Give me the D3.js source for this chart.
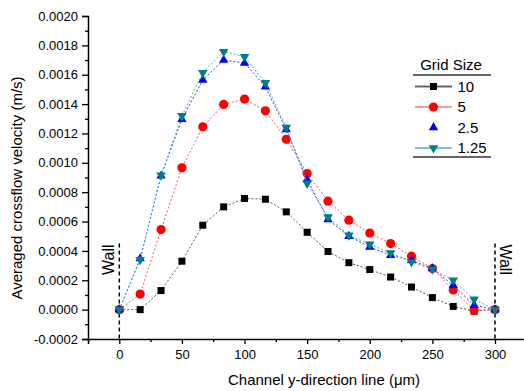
<!DOCTYPE html>
<html>
<head>
<meta charset="utf-8">
<script src="https://cdn.jsdelivr.net/npm/d3@7"></script>
<style>
  html, body { margin: 0; padding: 0; background: #fff; }
  svg { display: block; font-family: "Liberation Sans", Arial, sans-serif; }
</style>
</head>
<body>
<svg id="chart" width="524" height="391"></svg>
<script>
// Positions across the channel (µm)
const positions = [0, 16.67, 33.33, 50, 66.67, 83.33, 100, 116.67, 133.33, 150,
                   166.67, 183.33, 200, 216.67, 233.33, 250, 266.67, 283.33, 300];

// Averaged crossflow velocity (m/s) for each grid size
const grid10  = [0, 0, 0.00013, 0.00033, 0.000575, 0.0007, 0.000757, 0.000752, 0.000666, 0.000527,
                 0.000396, 0.00032, 0.000273, 0.000222, 0.000154, 0.000082, 0.000022, -0.00001, 0];
const grid5   = [0, 0.000106, 0.000545, 0.000966, 0.001245, 0.001398, 0.001434, 0.001354, 0.00116, 0.000927,
                 0.000739, 0.000609, 0.000522, 0.00045, 0.000364, 0.00028, 0.000134, -0.000005, 0];
const grid2_5 = [0, 0.000348, 0.000911, 0.001296, 0.001564, 0.0017, 0.00168, 0.001518, 0.001227, 0.000886,
                 0.000614, 0.0005, 0.000427, 0.00037, 0.000336, 0.00028, 0.000166, 0.00003, 0];
const grid1_25 = [0, 0.00034, 0.000915, 0.00132, 0.001614, 0.001757, 0.001723, 0.001545, 0.00124, 0.00086,
                  0.000631, 0.000507, 0.000445, 0.000386, 0.000325, 0.000275, 0.0002, 0.00007, 0];

const seriesNames = ["10", "5", "2.5", "1.25"];

// Axis ticks
const xTicks = [0, 50, 100, 150, 200, 250, 300];
const xMinorTicks = [-25, 25, 75, 125, 175, 225, 275, 325];
const yTicks = [-0.0002, 0, 0.0002, 0.0004, 0.0006, 0.0008, 0.001, 0.0012, 0.0014, 0.0016, 0.0018, 0.002];
const yMinorTicks = [-0.0001, 0.0001, 0.0003, 0.0005, 0.0007, 0.0009, 0.0011, 0.0013, 0.0015, 0.0017, 0.0019];

// Wall positions
const walls = [0, 300];

const styles = [
  { values: grid10,   color: "#000000", line: "#555555", legendLine: "#666666", shape: "square" },
  { values: grid5,    color: "#ff0000", line: "#ff5555", legendLine: "#ff9999", shape: "circle" },
  { values: grid2_5,  color: "#0000ff", line: "#3344ff", legendLine: null,      shape: "up" },
  { values: grid1_25, color: "#008080", line: "#55b0b0", legendLine: "#80c4c4", shape: "down" }
];

const svg = d3.select("#chart");

const x = d3.scaleLinear().domain([-25, 325]).range([88, 526.3]);
const y = d3.scaleLinear().domain([-0.0002, 0.002]).range([339, 16]);

// Plain hyphen for negative tick values
const yFmt = d => (d < 0 ? "-" : "") + Math.abs(d).toFixed(4);

// Axes
svg.append("g").attr("transform", `translate(0,${y(-0.0002)})`)
  .call(d3.axisBottom(x).tickValues(xTicks).tickSize(5).tickPadding(6).tickFormat(d3.format("d")));
svg.append("g").attr("transform", `translate(0,${y(-0.0002)})`)
  .call(d3.axisBottom(x).tickValues(xMinorTicks).tickSize(3).tickFormat(""))
  .call(g => g.select(".domain").remove());
svg.append("g").attr("transform", `translate(${x(-25)},0)`)
  .call(d3.axisLeft(y).tickValues(yTicks).tickSize(6).tickPadding(4).tickFormat(yFmt));
svg.append("g").attr("transform", `translate(${x(-25)},0)`)
  .call(d3.axisLeft(y).tickValues(yMinorTicks).tickSize(3).tickFormat(""))
  .call(g => g.select(".domain").remove());

svg.selectAll(".domain").attr("stroke", "#000").attr("stroke-width", 1.5);
svg.selectAll(".tick line").attr("stroke", "#000").attr("stroke-width", 1.3);
svg.selectAll(".tick text").attr("font-size", 13).attr("fill", "#000")
  .attr("font-family", "Liberation Sans, Arial, sans-serif");

// Axis titles
svg.append("text")
  .attr("x", 324).attr("y", 385)
  .attr("text-anchor", "middle").attr("font-size", 15)
  .text("Channel y-direction line (μm)");
svg.append("text")
  .attr("transform", "translate(22,188) rotate(-90)")
  .attr("text-anchor", "middle").attr("font-size", 15)
  .text("Averaged crossflow velocity (m/s)");

// Wall markers
svg.selectAll(".wall").data(walls).join("line")
  .attr("x1", d => x(d)).attr("x2", d => x(d))
  .attr("y1", y(0.00045)).attr("y2", y(-0.0002))
  .attr("stroke", "#000").attr("stroke-width", 1.5).attr("stroke-dasharray", "4,3");
svg.append("text")
  .attr("transform", `translate(${x(0) - 5},${y(0.00034)}) rotate(-90)`)
  .attr("text-anchor", "middle").attr("font-size", 16).text("Wall");
svg.append("text")
  .attr("transform", `translate(${x(300) + 5},${y(0.00034)}) rotate(90)`)
  .attr("text-anchor", "middle").attr("font-size", 16).text("Wall");

// Marker drawing helper
function marker(sel, shape, color) {
  if (shape === "square") {
    sel.append("rect").attr("x", -3.5).attr("y", -3.5).attr("width", 7).attr("height", 7).attr("fill", color);
  } else if (shape === "circle") {
    sel.append("circle").attr("r", 4.6).attr("fill", color);
  } else if (shape === "up") {
    sel.append("path").attr("d", d3.symbol(d3.symbolTriangle, 38)()).attr("fill", color);
  } else {
    sel.append("path").attr("d", d3.symbol(d3.symbolTriangle, 40)()).attr("transform", "rotate(180)").attr("fill", color);
  }
}

const line = d3.line().x(d => x(d[0])).y(d => y(d[1]));

styles.forEach(s => {
  const pts = positions.map((p, i) => [p, s.values[i]]);
  svg.append("path").datum(pts)
    .attr("d", line).attr("fill", "none")
    .attr("stroke", s.line).attr("stroke-width", 1)
    .attr("stroke-dasharray", "2,2");
  svg.append("g").selectAll("g").data(pts).join("g")
    .attr("transform", d => `translate(${x(d[0])},${y(d[1])})`)
    .each(function () { marker(d3.select(this), s.shape, s.color); });
});

// Legend
const lg = svg.append("g");
lg.append("text").attr("x", 451).attr("y", 70).attr("text-anchor", "middle")
  .attr("font-size", 15).text("Grid Size");
lg.append("line").attr("x1", 413).attr("x2", 491).attr("y1", 75).attr("y2", 75)
  .attr("stroke", "#333").attr("stroke-width", 1.3);
lg.append("line").attr("x1", 413).attr("x2", 491).attr("y1", 157).attr("y2", 157)
  .attr("stroke", "#333").attr("stroke-width", 1.3);
const rowY = [86.5, 107, 127.5, 148];
styles.forEach((s, i) => {
  const row = lg.append("g").attr("transform", `translate(0,${rowY[i]})`);
  if (s.legendLine) {
    row.append("line").attr("x1", 415).attr("x2", 452).attr("y1", 0).attr("y2", 0)
      .attr("stroke", s.legendLine).attr("stroke-width", 2);
  }
  marker(row.append("g").attr("transform", "translate(433.5,0)"), s.shape, s.color);
  row.append("text").attr("x", 457.5).attr("y", 0).attr("dy", "0.36em")
    .attr("font-size", 15).text(seriesNames[i]);
});
</script>
</body>
</html>
